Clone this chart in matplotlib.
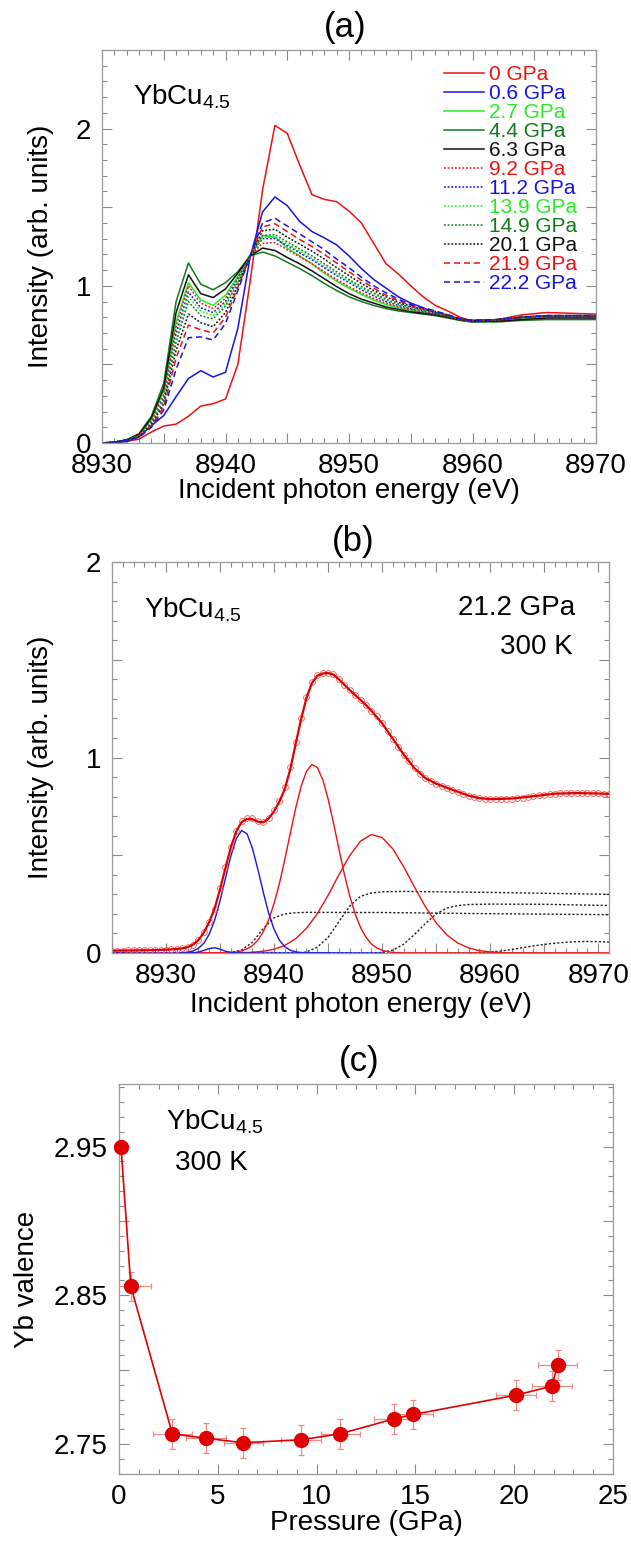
import numpy as np
import matplotlib
matplotlib.use("Agg")
import matplotlib.pyplot as plt
from matplotlib.ticker import MultipleLocator, FuncFormatter

plt.rcParams['font.family'] = ['Liberation Sans', 'DejaVu Sans']
plt.rcParams['mathtext.fontset'] = 'custom'
plt.rcParams['mathtext.rm'] = 'Liberation Sans'
plt.rcParams['mathtext.it'] = 'Liberation Sans:italic'

# ---------------- (a) XAS spectra vs pressure ----------------
energy_a = [8930, 8931, 8932, 8933, 8934, 8935, 8936, 8937, 8938, 8939, 8940,
            8941, 8942, 8943, 8944, 8945, 8946, 8947, 8948, 8949, 8950,
            8951, 8952, 8953, 8954, 8955, 8956, 8957, 8958, 8959, 8960,
            8962, 8964, 8966, 8968, 8970]

labels_a = ['0 GPa', '0.6 GPa', '2.7 GPa', '4.4 GPa', '6.3 GPa', '9.2 GPa',
            '11.2 GPa', '13.9 GPa', '14.9 GPa', '20.1 GPa', '21.9 GPa', '22.2 GPa']

xas_00 = [0.0, 0.003, 0.01, 0.025, 0.07, 0.108, 0.12, 0.17, 0.235, 0.25, 0.28,
          0.50, 1.03, 1.61, 2.02, 1.97, 1.77, 1.58, 1.55, 1.535, 1.475,
          1.40, 1.27, 1.14, 1.075, 1.0, 0.93, 0.875, 0.84, 0.80, 0.775,
          0.785, 0.815, 0.83, 0.825, 0.82]
xas_06 = [0.0, 0.003, 0.01, 0.04, 0.11, 0.175, 0.295, 0.41, 0.46, 0.42, 0.45,
          0.73, 1.185, 1.47, 1.565, 1.51, 1.41, 1.345, 1.305, 1.26, 1.19,
          1.11, 1.04, 0.985, 0.93, 0.89, 0.86, 0.83, 0.80, 0.78, 0.77,
          0.78, 0.80, 0.81, 0.81, 0.81]
xas_27 = [0.0, 0.005, 0.02, 0.05, 0.15, 0.33, 0.77, 1.02, 0.91, 0.875, 0.94,
          1.06, 1.20, 1.32, 1.31, 1.24, 1.19, 1.14, 1.08, 1.03, 0.985,
          0.945, 0.91, 0.88, 0.86, 0.845, 0.83, 0.82, 0.805, 0.785, 0.775,
          0.78, 0.79, 0.80, 0.80, 0.80]
xas_44 = [0.0, 0.005, 0.02, 0.06, 0.17, 0.38, 0.90, 1.145, 1.01, 0.975, 1.02,
          1.09, 1.19, 1.215, 1.19, 1.15, 1.11, 1.065, 1.015, 0.97, 0.93,
          0.90, 0.875, 0.855, 0.84, 0.83, 0.82, 0.81, 0.795, 0.78, 0.77,
          0.77, 0.78, 0.785, 0.785, 0.785]
xas_63 = [0.0, 0.005, 0.02, 0.055, 0.16, 0.35, 0.83, 1.07, 0.95, 0.925, 0.98,
          1.08, 1.19, 1.24, 1.225, 1.18, 1.14, 1.095, 1.045, 0.995, 0.95,
          0.915, 0.89, 0.865, 0.85, 0.835, 0.825, 0.815, 0.80, 0.785, 0.775,
          0.775, 0.785, 0.795, 0.795, 0.795]
xas_92 = [0.0, 0.005, 0.02, 0.05, 0.14, 0.31, 0.74, 1.00, 0.89, 0.855, 0.92,
          1.05, 1.19, 1.27, 1.275, 1.23, 1.185, 1.14, 1.09, 1.04, 0.995,
          0.955, 0.92, 0.89, 0.865, 0.85, 0.835, 0.82, 0.805, 0.785, 0.775,
          0.78, 0.795, 0.805, 0.805, 0.805]
xas_112 = [0.0, 0.005, 0.02, 0.045, 0.13, 0.29, 0.70, 0.96, 0.86, 0.83, 0.90,
           1.04, 1.19, 1.30, 1.30, 1.255, 1.21, 1.165, 1.115, 1.065, 1.02,
           0.975, 0.935, 0.90, 0.875, 0.855, 0.84, 0.825, 0.81, 0.79, 0.78,
           0.785, 0.80, 0.81, 0.81, 0.81]
xas_139 = [0.0, 0.005, 0.02, 0.045, 0.13, 0.28, 0.67, 0.93, 0.84, 0.81, 0.885,
           1.03, 1.19, 1.31, 1.31, 1.265, 1.22, 1.175, 1.125, 1.075, 1.03,
           0.985, 0.945, 0.91, 0.88, 0.86, 0.845, 0.83, 0.81, 0.79, 0.78,
           0.785, 0.80, 0.81, 0.81, 0.81]
xas_149 = [0.0, 0.005, 0.02, 0.045, 0.125, 0.27, 0.64, 0.90, 0.81, 0.79, 0.87,
           1.02, 1.19, 1.32, 1.325, 1.28, 1.235, 1.19, 1.14, 1.09, 1.04,
           0.995, 0.955, 0.915, 0.885, 0.865, 0.85, 0.83, 0.81, 0.79, 0.78,
           0.785, 0.80, 0.805, 0.805, 0.805]
xas_201 = [0.0, 0.005, 0.02, 0.04, 0.115, 0.25, 0.59, 0.82, 0.765, 0.74, 0.83,
           1.00, 1.19, 1.35, 1.36, 1.31, 1.265, 1.22, 1.17, 1.115, 1.065,
           1.015, 0.97, 0.93, 0.895, 0.87, 0.85, 0.835, 0.815, 0.79, 0.78,
           0.785, 0.80, 0.81, 0.81, 0.81]
xas_219 = [0.0, 0.005, 0.018, 0.04, 0.11, 0.23, 0.54, 0.75, 0.72, 0.70, 0.80,
           0.99, 1.19, 1.375, 1.395, 1.345, 1.295, 1.25, 1.20, 1.145, 1.09,
           1.035, 0.985, 0.94, 0.905, 0.875, 0.855, 0.835, 0.815, 0.79, 0.78,
           0.785, 0.80, 0.81, 0.81, 0.81]
xas_222 = [0.0, 0.005, 0.018, 0.035, 0.10, 0.21, 0.47, 0.67, 0.675, 0.655, 0.76,
           0.97, 1.19, 1.40, 1.43, 1.38, 1.33, 1.28, 1.23, 1.17, 1.115,
           1.055, 1.00, 0.955, 0.915, 0.88, 0.86, 0.84, 0.815, 0.79, 0.78,
           0.785, 0.80, 0.81, 0.81, 0.81]

spectra_a = [xas_00, xas_06, xas_27, xas_44, xas_63, xas_92,
             xas_112, xas_139, xas_149, xas_201, xas_219, xas_222]

RED, BLUE, LGREEN, DGREEN, BLACK = '#ee1111', '#1515e6', '#22ee22', '#127a1e', '#111111'
colors_a = [RED, BLUE, LGREEN, DGREEN, BLACK, RED, BLUE, LGREEN, DGREEN, BLACK, RED, BLUE]
DOT = (0, (1.2, 1.2))
DASH = (0, (4, 2.5))
styles_a = ['-'] * 5 + [DOT] * 5 + [DASH] * 2

# ---------------- (b) fit at 21.2 GPa ----------------
data_b = [0.012, 0.012, 0.012, 0.013, 0.013, 0.013, 0.014, 0.014, 0.015, 0.016,
          0.017, 0.018, 0.020, 0.024, 0.030, 0.042, 0.065, 0.105, 0.160, 0.225,
          0.330, 0.440, 0.540, 0.625, 0.675, 0.690, 0.688, 0.675, 0.668, 0.690,
          0.730, 0.780, 0.850, 0.950, 1.080, 1.200, 1.310, 1.385, 1.420, 1.432,
          1.433, 1.425, 1.400, 1.372, 1.345, 1.320, 1.295, 1.268, 1.240, 1.210,
          1.175, 1.135, 1.095, 1.055, 1.015, 0.980, 0.945, 0.918, 0.895, 0.878,
          0.866, 0.855, 0.845, 0.835, 0.825, 0.815, 0.805, 0.798, 0.792, 0.789,
          0.787, 0.786, 0.787, 0.788, 0.790, 0.792, 0.795, 0.798, 0.802, 0.806,
          0.810, 0.813, 0.815, 0.817, 0.818, 0.818, 0.818, 0.818, 0.818, 0.817,
          0.816, 0.815, 0.814]
energy_b = 8925 + 0.5 * np.arange(len(data_b))

fit_e = [8925, 8927, 8929, 8930, 8931, 8931.5, 8932, 8932.5, 8933, 8933.5, 8934,
         8934.5, 8935, 8935.5, 8936, 8936.5, 8937, 8937.5, 8938, 8938.5, 8939,
         8939.5, 8940, 8940.5, 8941, 8941.5, 8942, 8942.5, 8943, 8943.5, 8944,
         8944.5, 8945, 8945.5, 8946, 8947, 8948, 8949, 8950, 8951, 8952, 8953,
         8954, 8955, 8956, 8957, 8958, 8959, 8960, 8962, 8964, 8966, 8968, 8970, 8971]
fit_v = [0.012, 0.013, 0.015, 0.017, 0.02, 0.024, 0.03, 0.043, 0.066, 0.105, 0.158,
         0.228, 0.325, 0.435, 0.54, 0.622, 0.67, 0.686, 0.684, 0.672, 0.668,
         0.688, 0.725, 0.775, 0.84, 0.94, 1.07, 1.195, 1.305, 1.38, 1.418,
         1.43, 1.432, 1.424, 1.40, 1.345, 1.295, 1.24, 1.175, 1.095, 1.015, 0.945,
         0.895, 0.866, 0.845, 0.825, 0.805, 0.792, 0.787, 0.79, 0.802, 0.815, 0.818, 0.816, 0.814]

# Yb2+ like components (blue)
pre_e = [8925, 8932, 8932.5, 8933, 8933.5, 8934, 8934.5, 8935, 8935.5, 8936, 8936.5, 8937, 8945]
pre_v = [0, 0.0002, 0.001, 0.005, 0.013, 0.023, 0.027, 0.020, 0.009, 0.003, 0.0005, 0, 0]
yb2_e = [8925, 8931, 8931.5, 8932, 8932.5, 8933, 8933.5, 8934, 8934.5, 8935, 8935.5,
         8936, 8936.5, 8937, 8937.5, 8938, 8938.5, 8939, 8939.5, 8940, 8940.5,
         8941, 8941.5, 8942, 8942.5, 8943, 8950]
yb2_v = [0, 0.0005, 0.002, 0.004, 0.010, 0.024, 0.050, 0.096, 0.168, 0.266, 0.382,
         0.496, 0.585, 0.627, 0.609, 0.535, 0.428, 0.311, 0.204, 0.121, 0.065,
         0.032, 0.014, 0.006, 0.002, 0.001, 0]
# Yb3+ like components (red)
yb3a_e = [8925, 8936, 8936.5, 8937, 8937.5, 8938, 8938.5, 8939, 8939.5, 8940, 8940.5,
          8941, 8941.5, 8942, 8942.5, 8943, 8943.5, 8944, 8944.5, 8945, 8945.5,
          8946, 8946.5, 8947, 8947.5, 8948, 8948.5, 8949, 8949.5, 8950, 8950.5,
          8951, 8952, 8971]
yb3a_v = [0, 0.002, 0.005, 0.011, 0.021, 0.038, 0.066, 0.108, 0.170, 0.253, 0.357,
          0.480, 0.612, 0.741, 0.852, 0.930, 0.964, 0.949, 0.888, 0.788, 0.665,
          0.532, 0.405, 0.292, 0.201, 0.131, 0.081, 0.047, 0.026, 0.014, 0.007,
          0.003, 0.001, 0]
yb3b_e = [8925, 8937, 8938, 8939, 8940, 8941, 8942, 8943, 8944, 8945, 8946, 8947,
          8948, 8949, 8950, 8951, 8952, 8953, 8954, 8955, 8956, 8957, 8958, 8959,
          8960, 8961, 8962, 8971]
yb3b_v = [0, 0.001, 0.004, 0.009, 0.019, 0.039, 0.073, 0.126, 0.201, 0.295, 0.400, 0.498,
          0.572, 0.606, 0.591, 0.532, 0.441, 0.337, 0.237, 0.154, 0.092, 0.051, 0.026, 0.012,
          0.005, 0.002, 0.001, 0]
# edge steps (black dotted)
step1_e = [8925, 8935, 8936, 8937, 8938, 8939, 8940, 8941, 8942, 8943, 8950, 8960, 8971]
step1_v = [0, 0, 0.003, 0.015, 0.055, 0.125, 0.18, 0.2, 0.206, 0.208, 0.207, 0.201, 0.196]
step2_e = [8925, 8942, 8943, 8944, 8945, 8946, 8947, 8948, 8949, 8950, 8952, 8960, 8971]
step2_v = [0, 0, 0.005, 0.03, 0.08, 0.16, 0.24, 0.29, 0.307, 0.313, 0.315, 0.31, 0.30]
step3_e = [8925, 8949, 8950, 8951, 8952, 8953, 8954, 8955, 8956, 8957, 8958, 8960, 8965, 8971]
step3_v = [0, 0, 0.003, 0.015, 0.045, 0.095, 0.15, 0.2, 0.23, 0.243, 0.248, 0.25, 0.249, 0.243]
step4_e = [8925, 8958, 8959, 8960, 8961, 8962, 8963, 8964, 8965, 8966, 8967, 8968, 8969, 8970, 8971]
step4_v = [0, 0, 0.002, 0.005, 0.01, 0.018, 0.027, 0.036, 0.044, 0.05, 0.055, 0.058, 0.059, 0.058, 0.056]

# ---------------- (c) valence vs pressure ----------------
pressure = [0.1, 0.6, 2.7, 4.4, 6.3, 9.2, 11.2, 13.9, 14.9, 20.1, 21.9, 22.2]
valence = [2.950, 2.856, 2.757, 2.754, 2.751, 2.753, 2.757, 2.767, 2.770, 2.783, 2.789, 2.803]
pressure_err = [0, 1.0, 1.0, 1.0, 1.0, 1.0, 1.0, 1.0, 1.0, 1.0, 1.0, 1.0]
valence_err = [0, 0.01, 0.01, 0.01, 0.01, 0.01, 0.01, 0.01, 0.01, 0.01, 0.01, 0.01]

FS = 20
W, H = 631, 1546


def style(ax, xmaj, xmin, ymaj, ymin, xstep, ystep, ydec=0):
    ax.xaxis.set_major_locator(MultipleLocator(xmaj))
    ax.xaxis.set_minor_locator(MultipleLocator(xmin))
    ax.yaxis.set_major_locator(MultipleLocator(ymaj))
    ax.yaxis.set_minor_locator(MultipleLocator(ymin))
    ax.xaxis.set_major_formatter(FuncFormatter(
        lambda v, p: f"{v:.0f}" if abs(v / xstep - round(v / xstep)) < 1e-6 else ""))
    if ydec:
        ax.yaxis.set_major_formatter(FuncFormatter(
            lambda v, p: f"{v:.2f}" if round(v * 100) % 10 == 5 else ""))
    else:
        ax.yaxis.set_major_formatter(FuncFormatter(
            lambda v, p: f"{v:.0f}" if abs(v / ystep - round(v / ystep)) < 1e-6 else ""))
    ax.tick_params(which='both', direction='in', top=True, right=True,
                   color='#8a8a8a', labelcolor='black', labelsize=FS, width=0.8)
    ax.tick_params(axis='x', which='major', pad=7)
    ax.tick_params(axis='y', which='major', pad=8)
    ax.tick_params(which='major', length=7)
    ax.tick_params(which='minor', length=3.6)
    for s in ax.spines.values():
        s.set_color('#9a9a9a')
        s.set_linewidth(0.9)


def box(l, t, r, b):
    return [l / W, 1 - b / H, (r - l) / W, (b - t) / H]


fig = plt.figure(figsize=(W / 100, H / 100), dpi=100)
sub = r'YbCu$_{\mathrm{4.5}}$'

# ---- panel (a)
ax1 = fig.add_axes(box(102, 50, 596, 443))
handles = []
for vals, c, ls, lab in zip(spectra_a, colors_a, styles_a, labels_a):
    h, = ax1.plot(energy_a, vals, color=c, ls=ls, lw=1.1, label=lab)
    handles.append(h)
ax1.set_xlim(8930, 8970)
ax1.set_ylim(0, 2.5)
style(ax1, 5, 1, 0.5, 0.1, 10, 1)
ax1.set_xlabel('Incident photon energy (eV)', fontsize=FS)
ax1.set_ylabel('Intensity (arb. units)', fontsize=FS)
ax1.xaxis.set_label_coords(0.5, -0.09)
ax1.yaxis.set_label_coords(-0.097, 0.5)
ax1.legend(handles=handles, loc='upper right', bbox_to_anchor=(0.962, 0.962),
           frameon=False, fontsize=15, handlelength=1.9, handletextpad=0.25,
           labelspacing=0.0, borderpad=0, borderaxespad=0, labelcolor='linecolor')
ax1.text(0.063, 0.88, sub, transform=ax1.transAxes, fontsize=FS, va='center')
fig.text(345 / W, 1 - 28 / H, '(a)', fontsize=25, ha='center', va='center')

# ---- panel (b)
ax2 = fig.add_axes(box(112, 562, 609, 953))
for e, v in [(step1_e, step1_v), (step2_e, step2_v), (step3_e, step3_v), (step4_e, step4_v)]:
    ax2.plot(e, v, color='#222222', ls=(0, (1.6, 1.4)), lw=1.0)
ax2.plot(yb3a_e, yb3a_v, color='#ee1111', lw=1.0)
ax2.plot(yb3b_e, yb3b_v, color='#ee1111', lw=1.0)
ax2.plot(pre_e, pre_v, color='#1515e6', lw=1.0)
ax2.plot(yb2_e, yb2_v, color='#1515e6', lw=1.0)
ax2.plot(energy_b, data_b, 'o', mfc='none', mec='#ff5555', ms=4.2, mew=0.6)
ax2.plot(fit_e, fit_v, color='#dd0000', lw=1.6)
ax2.set_xlim(8925, 8971)
ax2.set_ylim(0, 2)
style(ax2, 5, 1, 0.5, 0.1, 10, 1)
ax2.set_xlabel('Incident photon energy (eV)', fontsize=FS)
ax2.set_ylabel('Intensity (arb. units)', fontsize=FS)
ax2.xaxis.set_label_coords(0.5, -0.099)
ax2.yaxis.set_label_coords(-0.117, 0.5)
ax2.text(0.064, 0.877, sub, transform=ax2.transAxes, fontsize=FS, va='center')
ax2.text(0.932, 0.882, '21.2 GPa', transform=ax2.transAxes, fontsize=FS, va='center', ha='right')
ax2.text(0.928, 0.783, '300 K', transform=ax2.transAxes, fontsize=FS, va='center', ha='right')
fig.text(353 / W, 1 - 541 / H, '(b)', fontsize=25, ha='center', va='center')

# ---- panel (c)
ax3 = fig.add_axes(box(119, 1084, 613, 1474))
ax3.errorbar(pressure, valence, xerr=pressure_err, yerr=valence_err, fmt='none',
             ecolor='#f08a8a', elinewidth=0.9, capsize=2.5, capthick=0.9, zorder=2)
ax3.plot(pressure, valence, '-o', color='#e00000', lw=1.2, ms=10, zorder=3,
         clip_on=False)
ax3.set_xlim(0, 25)
ax3.set_ylim(2.73, 2.992)
style(ax3, 5, 1, 0.05, 0.01, 5, 1, ydec=1)
ax3.set_xlabel('Pressure (GPa)', fontsize=FS)
ax3.set_ylabel('Yb valence', fontsize=FS)
ax3.xaxis.set_label_coords(0.5, -0.092)
ax3.yaxis.set_label_coords(-0.16, 0.5)
ax3.text(0.096, 0.904, sub, transform=ax3.transAxes, fontsize=FS, va='center')
ax3.text(0.114, 0.797, '300 K', transform=ax3.transAxes, fontsize=FS, va='center')
fig.text(359 / W, 1 - 1062 / H, '(c)', fontsize=25, ha='center', va='center')

fig.savefig('out.png', dpi=100)
